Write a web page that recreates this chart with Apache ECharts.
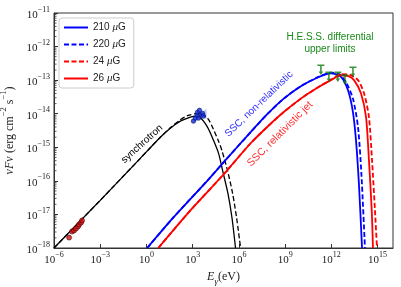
<!DOCTYPE html>
<html><head><meta charset="utf-8">
<script src="https://cdn.jsdelivr.net/npm/echarts@6/dist/echarts.min.js"></script>
<style>html,body{margin:0;padding:0;background:#fff}#c{width:401px;height:287px}</style>
</head><body><div id="c"></div>
<script>
// All pairs are [log10(E_gamma / eV), log10(nuFnu / erg cm^-2 s^-1)]
const syncSolid = [[-6,-18.0],[-3,-16.58],[-0.4,-15.33],[0.9,-14.70],[1.55,-14.43],[2.2,-14.22],[2.85,-14.10],[3.1,-14.08],[3.51,-14.13],[3.96,-14.40],[4.35,-14.79],[4.68,-15.18],[4.94,-15.69],[5.3,-16.40],[5.55,-17.1],[5.78,-18.0]];
const syncDashed = [[-6,-18.0],[-3,-16.58],[-0.4,-15.33],[0.9,-14.70],[1.55,-14.42],[2.2,-14.18],[2.66,-14.06],[3.31,-13.99],[3.96,-14.13],[4.35,-14.47],[4.68,-14.82],[4.9,-15.1],[5.26,-15.69],[5.59,-16.37],[5.85,-17.1],[6.11,-18.0]];
const ssc210 = [[0.05,-18.0],[1.75,-17.09],[3.96,-15.99],[5.0,-15.45],[6.76,-14.55],[7.87,-14.0],[8.91,-13.55],[10.02,-13.18],[11.12,-12.92],[11.97,-12.80],[12.62,-12.90],[13.08,-13.30],[13.40,-13.95],[13.60,-14.8],[13.79,-16.1],[13.99,-18.0]];
const ssc220 = [[0.05,-18.0],[1.75,-17.09],[3.96,-15.99],[5.0,-15.45],[6.76,-14.55],[7.87,-14.0],[8.91,-13.55],[10.02,-13.18],[11.12,-12.91],[11.97,-12.78],[12.5,-12.82],[12.94,-13.05],[13.40,-13.55],[13.73,-14.40],[13.95,-15.8],[14.18,-18.0]];
const ssc24 = [[0.77,-18.0],[2.85,-16.88],[5.0,-15.81],[6.76,-14.88],[7.87,-14.38],[8.91,-13.95],[10.02,-13.55],[11.12,-13.22],[11.97,-12.99],[12.62,-12.82],[13.2,-12.84],[13.73,-13.0],[14.12,-13.39],[14.44,-14.10],[14.64,-15.39],[14.83,-16.88],[14.96,-18.0]];
const ssc26 = [[0.77,-18.0],[2.85,-16.88],[5.0,-15.81],[6.76,-14.88],[7.87,-14.38],[8.91,-13.95],[10.02,-13.55],[11.12,-13.22],[11.97,-13.0],[12.62,-12.86],[13.1,-12.88],[13.47,-13.0],[13.92,-13.39],[14.25,-14.10],[14.44,-15.39],[14.62,-16.88],[14.70,-18.0]];
const radioPoints = [[-5.02,-17.69],[-4.83,-17.51],[-4.70,-17.48],[-4.57,-17.42],[-4.44,-17.36],[-4.37,-17.30],[-4.24,-17.24],[-4.18,-17.18]];
const xrayPoints = [[3.05,-14.22],[3.18,-14.13],[3.31,-14.04],[3.31,-13.96],[3.44,-13.90],[3.51,-14.04],[3.38,-14.13],[3.64,-13.99],[3.70,-14.07]];
const xrayBand = [[3.0,-14.28],[3.0,-14.05],[3.5,-13.98],[3.9,-13.86],[3.9,-14.14],[3.5,-14.14]];
const hessLimits = [[11.32,-12.55],[11.84,-12.76],[12.42,-12.76],[12.88,-12.85],[13.40,-12.61]];
const legendNames = ['210 μG','220 μG','24 μG','26 μG'];
const xTickExps = [-6,-3,0,3,6,9,12,15];
const yTickExps = [-18,-17,-16,-15,-14,-13,-12,-11];
const yMinorMultipliers = [2,3,4,5,6,7,8,9];

const toVal = arr => arr.map(p => [Math.pow(10,p[0]), Math.pow(10,p[1])]);
const supStr = e => (e<0 ? '\u2212' + (-e) : '' + e);
const tickFmt = v => '{b|10}{s|' + supStr(Math.round(Math.log10(v))) + '}';
const serif = 'Liberation Serif';
const sans = 'Liberation Sans';
const tickRich = { b:{fontFamily:serif,fontSize:11,color:'#222',lineHeight:15,verticalAlign:'bottom'}, s:{fontFamily:serif,fontSize:8,color:'#222',lineHeight:9,verticalAlign:'top'} };

const minorVals = [];
yTickExps.slice(0,-1).forEach(d => yMinorMultipliers.forEach(m => minorVals.push([1e-6, m*Math.pow(10,d)])));

const chart = echarts.init(document.getElementById('c'), null, {renderer:'canvas'});
const lineS = (name, data, color, dashed, w) => ({
  name, type:'line', data: toVal(data), showSymbol:false, symbol:'none', smooth:0.25,
  lineStyle:{color, width:w, type: dashed ? [5,2.5] : 'solid'}, itemStyle:{color}, z:3, clip:true, silent:true
});
chart.setOption({
  animation:false,
  backgroundColor:'#fff',
  grid:{left:54, top:13, right:8, bottom:39, containLabel:false, outerBoundsMode:'none', show:true, borderColor:'#333', borderWidth:1, backgroundColor:'transparent'},
  legend:{
    data: legendNames, orient:'vertical', left:59, top:18, itemWidth:24, itemHeight:10, itemGap:6,
    padding:[4,8,4,4], borderColor:'#ccc', borderWidth:1, borderRadius:3, backgroundColor:'#fff',
    itemStyle:{opacity:0},
    formatter: n => n.replace('μ','{i|μ}'),
    textStyle:{fontFamily:sans, fontSize:10, color:'#222', rich:{i:{fontFamily:serif, fontStyle:'italic', fontSize:11, color:'#222'}}}
  },
  xAxis:{
    type:'log', logBase:10, min:1e-6, max:1e16, interval:3,
    name:'{i|E}{sub|γ}{r|(eV)}', nameLocation:'middle', nameGap:14,
    nameTextStyle:{rich:{i:{fontFamily:serif,fontStyle:'italic',fontSize:12,color:'#222',lineHeight:13,verticalAlign:'top'}, sub:{fontFamily:serif,fontStyle:'italic',fontSize:9,color:'#222',lineHeight:10,verticalAlign:'top',padding:[6,0,0,0]}, r:{fontFamily:serif,fontSize:12,color:'#222',lineHeight:13,verticalAlign:'top'}}},
    axisLine:{lineStyle:{color:'#333',width:1}},
    axisTick:{inside:true,length:4,lineStyle:{color:'#333'}},
    axisLabel:{formatter:tickFmt, rich:tickRich, margin:3, showMaxLabel:false},
    splitLine:{show:false}
  },
  yAxis:{
    type:'log', logBase:10, min:1e-18, max:1e-11, interval:1,
    name:'{i|νFν} {r|(erg cm}{s|\u22122}{r| s}{s|\u22121}{r|)}', nameLocation:'middle', nameGap:33, nameRotate:90,
    nameTextStyle:{rich:{i:{fontFamily:serif,fontStyle:'italic',fontSize:12,color:'#222',lineHeight:16,verticalAlign:'bottom'}, r:{fontFamily:serif,fontSize:12,color:'#222',lineHeight:16,verticalAlign:'bottom'}, s:{fontFamily:serif,fontSize:8.5,color:'#222',lineHeight:10,verticalAlign:'top'}}},
    axisLine:{lineStyle:{color:'#333',width:1}},
    axisTick:{inside:true,length:4,lineStyle:{color:'#333'}},
    axisLabel:{formatter:tickFmt, rich:tickRich, margin:4},
    splitLine:{show:false}
  },
  series:[
    {type:'custom', silent:true, clip:false, z:5, data:minorVals,
     renderItem:(p, api) => { const c = api.coord([api.value(0), api.value(1)]); return {type:'line', shape:{x1:c[0], y1:c[1], x2:c[0]+2.5, y2:c[1]}, style:{stroke:'#333', lineWidth:0.8}}; }},
    {type:'custom', silent:true, z:2, data:[0],
     renderItem:(p, api) => ({type:'polygon', shape:{points: toVal(xrayBand).map(v => api.coord(v))}, style:{fill:'rgba(110,130,255,0.45)'}})},
    lineS('sync solid', syncSolid, '#000', false, 1.3),
    lineS('sync dashed', syncDashed, '#000', true, 1.3),
    lineS('210 μG', ssc210, '#0000ff', false, 1.8),
    lineS('220 μG', ssc220, '#0000ff', true, 1.8),
    lineS('24 μG', ssc24, '#ff0000', true, 1.8),
    lineS('26 μG', ssc26, '#ff0000', false, 1.8),
    {name:'radio', type:'scatter', data:toVal(radioPoints), symbol:'circle', symbolSize:5, z:6, silent:true,
     itemStyle:{color:'#d01010', borderColor:'#400', borderWidth:0.7}},
    {name:'xray', type:'scatter', data:toVal(xrayPoints), symbol:'circle', symbolSize:4.5, z:6, silent:true,
     itemStyle:{color:'#1530e0', borderColor:'#001060', borderWidth:0.7}},
    {name:'HESS UL', type:'scatter', data:toVal(hessLimits), z:7, silent:true,
     symbol:'path://M0,0 L8,0 L8,1.8 L4.9,1.8 L4.9,8 L6.6,8 L4,12 L1.4,8 L3.1,8 L3.1,1.8 L0,1.8 Z',
     symbolSize:[7,10.5], symbolKeepAspect:false, symbolOffset:[0,'45%'],
     itemStyle:{color:'#0a7a0a'}}
  ],
  graphic:[
    {type:'text', x:142, y:144, rotation:42*Math.PI/180, style:{text:'synchrotron', fontFamily:sans, fontSize:10, fill:'#000', align:'center', verticalAlign:'middle'}},
    {type:'text', x:259, y:104, rotation:44*Math.PI/180, style:{text:'SSC, non-relativistic', fontFamily:sans, fontSize:10, fill:'#3030ff', align:'center', verticalAlign:'middle'}},
    {type:'text', x:280, y:134, rotation:45*Math.PI/180, style:{text:'SSC, relativistic jet', fontFamily:sans, fontSize:10.5, fill:'#ff3030', align:'center', verticalAlign:'middle'}},
    {type:'text', x:330, y:43, style:{text:'H.E.S.S. differential\nupper limits', fontFamily:sans, fontSize:10, lineHeight:12.5, fill:'#1a8a1a', align:'center', verticalAlign:'middle'}}
  ]
});
</script></body></html>
